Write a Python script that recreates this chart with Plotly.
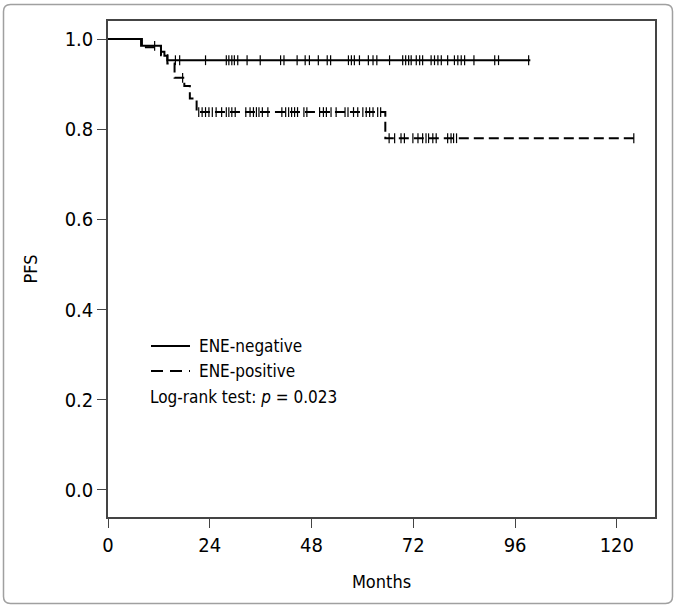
import numpy as np
import plotly.graph_objects as go

# ---------------- data ----------------
# ENE-negative (solid): step times (months) and PFS values
neg_times = [0, 7.8, 12.5, 13.3, 14.0, 99.6]
neg_surv = [1.0, 0.985, 0.972, 0.963, 0.953, 0.953]
neg_censor = [11.0, 15.9, 16.9, 23.0, 27.9, 28.5, 29.2, 29.8, 30.6, 32.8, 35.9,
              40.7, 41.5, 44.6, 46.5, 47.5, 49.6, 51.7, 52.5, 56.7, 57.4, 58.1,
              59.3, 61.4, 62.5, 63.4, 66.4, 69.5, 70.2, 70.9, 71.5, 72.7, 73.5,
              74.2, 76.2, 77.0, 77.8, 78.6, 80.1, 81.7, 82.5, 83.3, 84.1, 86.3,
              91.2, 92.1, 99.2]

# ENE-positive (dashed)
pos_times = [0, 8.0, 12.5, 14.0, 15.7, 18.0, 19.3, 20.9, 65.4, 124.3]
pos_surv = [1.0, 0.982, 0.964, 0.946, 0.914, 0.896, 0.868, 0.838, 0.78, 0.78]
pos_censor = [17.6, 21.4, 22.2, 23.0, 23.8, 24.6, 25.5, 26.8, 27.9, 28.5, 29.2,
              30.0, 32.5, 33.5, 34.3, 35.0, 35.6, 36.4, 37.7, 41.0, 41.9, 42.6,
              43.3, 44.0, 44.7, 46.2, 46.9, 49.9, 50.8, 51.5, 52.6, 53.8, 55.9,
              56.6, 57.9, 58.9, 60.1, 60.9, 61.7, 62.5, 63.6, 64.3,
              66.3, 67.6, 69.1, 69.9, 71.9, 73.1, 74.2, 75.0, 75.6, 76.6, 77.4,
              80.1, 80.9, 81.5, 82.2, 124.0]

x_ticks = [0, 24, 48, 72, 96, 120]
y_ticks = [0.0, 0.2, 0.4, 0.6, 0.8, 1.0]
y_tick_text = ["0.0", "0.2", "0.4", "0.6", "0.8", "1.0"]


def step_value(times, surv, t):
    idx = np.searchsorted(np.asarray(times), np.asarray(t), side="right") - 1
    return np.asarray(surv)[idx]


FONT = "DejaVu Sans Condensed, sans-serif"

fig = go.Figure()

fig.add_trace(go.Scatter(x=pos_times, y=pos_surv, mode="lines", line_shape="hv",
                         line=dict(color="black", width=2, dash="10px,5px"),
                         showlegend=False, hoverinfo="skip"))
fig.add_trace(go.Scatter(x=pos_censor, y=step_value(pos_times, pos_surv, pos_censor),
                         mode="markers",
                         marker=dict(symbol="line-ns", size=7,
                                     line=dict(color="black", width=1.2)),
                         showlegend=False, hoverinfo="skip"))
fig.add_trace(go.Scatter(x=neg_times, y=neg_surv, mode="lines", line_shape="hv",
                         line=dict(color="black", width=2),
                         showlegend=False, hoverinfo="skip"))
fig.add_trace(go.Scatter(x=neg_censor, y=step_value(neg_times, neg_surv, neg_censor),
                         mode="markers",
                         marker=dict(symbol="line-ns", size=7,
                                     line=dict(color="black", width=1.2)),
                         showlegend=False, hoverinfo="skip"))

W, H = 677, 608
L, R, T, B = 108, 22, 21, 91
pw, ph = W - L - R, H - T - B


def px(x):
    return (x - L) / pw


def py(y):
    return (H - B - y) / ph


shapes = []
# legend samples
shapes.append(dict(type="line", xref="paper", yref="paper",
                   x0=px(151), x1=px(190), y0=py(346), y1=py(346),
                   line=dict(color="black", width=2)))
shapes.append(dict(type="line", xref="paper", yref="paper",
                   x0=px(151), x1=px(190), y0=py(371), y1=py(371),
                   line=dict(color="black", width=2, dash="12px,7px")))
# outer frame with rounded corners
x0, x1, y0, y1 = px(3.5), px(672.5), py(603.5), py(4.5)
rx, ry = 7 / pw, 7 / ph
path = (f"M {x0+rx},{y1} L {x1-rx},{y1} Q {x1},{y1} {x1},{y1-ry} "
        f"L {x1},{y0+ry} Q {x1},{y0} {x1-rx},{y0} L {x0+rx},{y0} "
        f"Q {x0},{y0} {x0},{y0+ry} L {x0},{y1-ry} Q {x0},{y1} {x0+rx},{y1} Z")
shapes.append(dict(type="path", xref="paper", yref="paper", path=path,
                   line=dict(color="#a0a0a0", width=1.5)))

annotations = [
    dict(text="ENE-negative", xref="paper", yref="paper", x=px(197), y=py(346),
         xanchor="left", yanchor="middle", showarrow=False,
         font=dict(family=FONT, size=17, color="black")),
    dict(text="ENE-positive", xref="paper", yref="paper", x=px(197), y=py(371),
         xanchor="left", yanchor="middle", showarrow=False,
         font=dict(family=FONT, size=17, color="black")),
    dict(text="Log-rank test: <i>p</i> = 0.023", xref="paper", yref="paper",
         x=px(148), y=py(397), xanchor="left", yanchor="middle", showarrow=False,
         font=dict(family=FONT, size=17, color="black")),
]

fig.update_layout(
    width=W, height=H,
    margin=dict(l=L, r=R, t=T, b=B),
    paper_bgcolor="white", plot_bgcolor="white",
    font=dict(family=FONT, size=18, color="black"),
    shapes=shapes, annotations=annotations,
    xaxis=dict(range=[0, 129], tickvals=x_ticks, ticks="outside", ticklen=9,
               tickwidth=1.3, tickcolor="#444", showgrid=False, zeroline=False,
               showline=True, linecolor="#444", linewidth=1.5, mirror=True,
               tickfont=dict(family=FONT, size=20),
               title=dict(text="Months", standoff=20,
                          font=dict(family=FONT, size=18))),
    yaxis=dict(range=[-0.06, 1.04], tickvals=y_ticks, ticktext=y_tick_text,
               ticks="outside", ticklen=9, tickwidth=1.3, tickcolor="#444",
               showgrid=False, zeroline=False, showline=True, linecolor="#444",
               linewidth=1.5, mirror=True,
               tickfont=dict(family=FONT, size=20),
               title=dict(text="PFS", standoff=22,
                          font=dict(family=FONT, size=18))),
)

fig.write_html("out.html", post_script="document.body.style.margin='0';",
               config={"displayModeBar": False})
